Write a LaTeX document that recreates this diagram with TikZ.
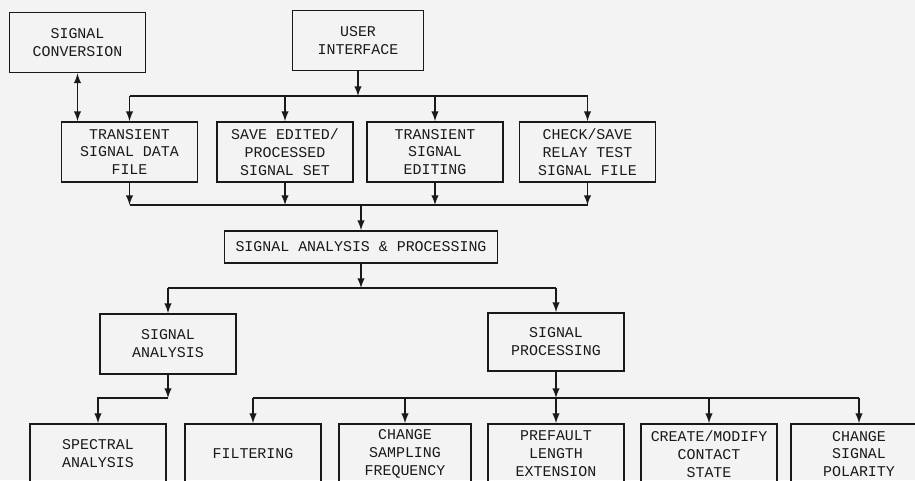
\documentclass[tikz,border=0pt]{standalone}
\usepackage{fontspec}
\setmonofont{Liberation Mono}
\usepackage{tikz}
\usetikzlibrary{positioning,%
  arrows,%
  calc%
}
\definecolor{paper}{RGB}{243,243,243}
\definecolor{ink}{RGB}{25,25,25}
\tikzset{
  blk/.style={draw=ink, line width=1pt, align=center, inner sep=0pt,
    minimum width=2.72cm, minimum height=1.2cm, text=ink,
    font=\ttfamily\fontsize{8.5}{10.2}\selectfont},
  wire/.style={draw=ink, line width=0.9pt},
  link/.style={wire, -latex}
}

\begin{document}
\begin{tikzpicture}[x=0.02cm,y=-0.02cm]
            \useasboundingbox (0,0) rectangle (915,480);
            \clip (0,0) rectangle (915,480);
            \fill [paper] (0,0) rectangle (915,480);

            % top level
            \node [blk] (conv) at (77.5,42.5) {SIGNAL\\CONVERSION};
            \node [blk, minimum width=2.62cm] (ui) at (358,40.5) {USER\\INTERFACE};

            % signal files
            \node [blk] (tsdf) at (129.5,152) {TRANSIENT\\SIGNAL DATA\\FILE};
            \node [blk] (save) at (285,152) {SAVE EDITED/\\PROCESSED\\SIGNAL SET};
            \node [blk] (edit) at (435,152) {TRANSIENT\\SIGNAL\\EDITING};
            \node [blk] (chk) at (587.5,152) {CHECK/SAVE\\RELAY TEST\\SIGNAL FILE};

            \node [blk, minimum width=5.46cm, minimum height=0.64cm] (sap) at (361,247) {SIGNAL ANALYSIS \& PROCESSING};

            \node [blk] (sa) at (168,344) {SIGNAL\\ANALYSIS};
            \node [blk, minimum height=1.16cm] (sp) at (556,342) {SIGNAL\\PROCESSING};

            % bottom row
            \node [blk] (spec) at (98,454) {SPECTRAL\\ANALYSIS};
            \node [blk] (filt) at (253,454) {FILTERING};
            \node [blk, minimum width=2.64cm] (samp) at (405,454) {CHANGE\\SAMPLING\\FREQUENCY};
            \node [blk] (pref) at (556,454) {PREFAULT\\LENGTH\\EXTENSION};
            \node [blk] (cont) at (709,454) {CREATE/MODIFY\\CONTACT\\STATE};
            \node [blk] (pol) at (859,454) {CHANGE\\SIGNAL\\POLARITY};

            \coordinate (busA) at (0,96);
            \coordinate (busB) at (0,205);
            \coordinate (busC) at (0,288);
            \coordinate (busD) at (0,398);

            \draw [link] (ui.south) -- (ui.south |- busA);
            \draw [wire] (tsdf.north |- busA) -- (chk.north |- busA);
            \foreach \n in {tsdf,save,edit,chk}
              \draw [link] (\n.north |- busA) -- (\n.north);
            \draw [link, latex-latex] (conv.south) -- (conv.south |- tsdf.north);

            \foreach \n in {tsdf,save,edit,chk}
              \draw [link] (\n.south) -- (\n.south |- busB);
            \draw [wire] (tsdf.south |- busB) -- (chk.south |- busB);
            \draw [link] (sap.north |- busB) -- (sap.north);

            \draw [link] (sap.south) -- (sap.south |- busC);
            \draw [wire] (sa.north |- busC) -- (sp.north |- busC);
            \draw [link] (sa.north |- busC) -- (sa.north);
            \draw [link] (sp.north |- busC) -- (sp.north);

            \draw [link] (sa.south) -- (sa.south |- busD);
            \draw [link] (sa.south |- busD) -| (spec.north);
            \draw [link] (sp.south) -- (sp.south |- busD);
            \draw [wire] (filt.north |- busD) -- (pol.north |- busD);
            \foreach \n in {filt,samp,pref,cont,pol}
              \draw [link] (\n.north |- busD) -- (\n.north);
        \end{tikzpicture}
\end{document}
